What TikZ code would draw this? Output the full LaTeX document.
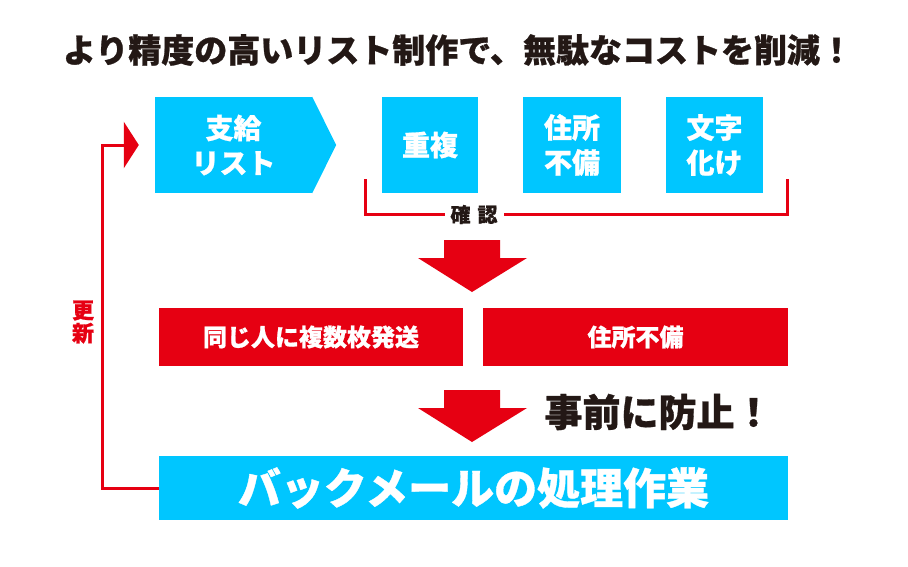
\documentclass[tikz,border=0pt]{standalone}
\usepackage{fontspec}
\newfontfamily\jp{Noto Sans CJK JP}[BoldFeatures={FakeBold=0.8}]
\usepackage{tikz}
\usetikzlibrary{arrows.meta,positioning}
\definecolor{skyblue}{HTML}{00C6FF}
\definecolor{alertred}{HTML}{E60012}
\definecolor{inkblack}{HTML}{231815}

\begin{document}
\begin{tikzpicture}[x=1pt, y=-1pt,
  headline/.style={font=\jp\bfseries\fontsize{33}{36}\selectfont, text=inkblack},
  item/.style={fill=skyblue, text=white, minimum height=96pt, inner sep=0pt, align=center,
               font=\jp\bfseries\fontsize{28}{35}\selectfont},
  issue/.style={fill=alertred, text=white, minimum width=305pt, minimum height=58pt,
                inner sep=0pt, font=\jp\bfseries\fontsize{24}{28}\selectfont},
  work/.style={fill=skyblue, text=white, minimum width=629pt, minimum height=64pt,
               inner sep=0pt, font=\jp\bfseries\fontsize{43}{48}\selectfont},
  bracket/.style={draw=alertred, line width=3pt},
  feedback/.style={draw=alertred, line width=3pt, -{Triangle[length=15pt,width=46pt]}},
  tag/.style={font=\jp\bfseries\fontsize{20}{22}\selectfont, text=inkblack},
  bigarrow/.pic={\fill[alertred] (-28,-52) -- (28,-52) -- (28,-34) -- (55,-34) -- (0,0)
                 -- (-54,-34) -- (-28,-34) -- cycle;},
]
\fill[white] (0,0) rectangle (908,566);
\useasboundingbox (0,0) rectangle (908,566);

% 見出し
\node[headline] (title) at (458,50) {より精度の高いリスト制作で、無駄なコストを削減！};

% 上段
\node[item, minimum width=157pt] (list) at (233.5,145) {支給\\リスト};
\fill[skyblue] (list.north east) -- ([xshift=24pt]list.east) -- (list.south east) -- cycle;
\node[item, minimum width=96pt] (dup) at (430,145) {重複};
\node[item, minimum width=98pt] (addr) at (572,145) {住所\\不備};
\node[item, minimum width=97pt] (garble) at (714.5,145) {文字\\化け};

% 確認
\coordinate (bl) at (365,179);
\coordinate (br) at (787,179);
\node[tag] (check) at (474,214.5) {};
\draw[bracket] (bl) |- (br |- check) -- (br);
\node[tag, fill=white, inner xsep=6pt] at (check) {確\hspace{7pt}認};

\pic at (472,292) {bigarrow};

% 中段
\node[issue, minimum width=304pt] (multi) at (311,337) {同じ人に複数枚発送};
\node[issue] (addr2) at (635.5,337) {住所不備};

\pic at (472,442) {bigarrow};
\node[font=\jp\bfseries\fontsize{38}{42}\selectfont, text=inkblack] (prevent) at (658.5,412) {事前に防止！};

% 下段
\node[work] (back) at (473.5,488) {バックメールの処理作業};

% 更新
\draw[feedback] (back.west) -- ++(-56,0) |- ([xshift=-16pt]list.west);
\node[font=\jp\bfseries\fontsize{22}{23}\selectfont, text=alertred, align=center] (renew) at (83,322) {更\\新};

\end{tikzpicture}
\end{document}
